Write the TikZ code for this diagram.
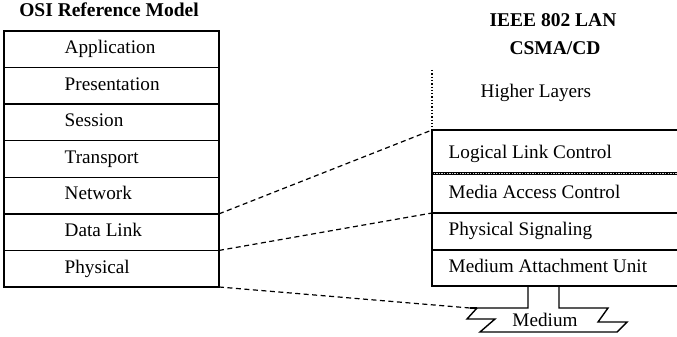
\documentclass[tikz,border=0pt]{standalone}
\usepackage{fontspec}
\setmainfont{Liberation Serif}
\begin{document}
\begin{tikzpicture}[x=1pt,y=-1pt,line width=1.4pt,
  lbl/.style={anchor=base west,inner sep=0pt,font=\fontsize{19.2}{21}\selectfont},
  ttl/.style={anchor=base,inner sep=0pt,font=\fontsize{19.5}{21}\selectfont\bfseries},
  layer/.style={draw,minimum width=215pt,minimum height=36.57pt,anchor=north west,inner sep=0pt,outer sep=0pt},
  conn/.style={dash pattern=on 5pt off 3.5pt,line width=1.2pt}]
\useasboundingbox (0,0) rectangle (677,337);
% titles
\node[ttl] (osi) at (109,17) {OSI Reference Model};
\node[ttl] (ieee) at (553,27) {IEEE 802 LAN};
\node[ttl] (csma) at (555,55) {CSMA/CD};
% left stack
\node[layer] (app)  at (4,31) {};
\node[layer] (pres) at (4,67.57) {};
\node[layer] (sess) at (4,104.14) {};
\node[layer] (trans) at (4,140.71) {};
\node[layer] (net)  at (4,177.28) {};
\node[layer] (dl)   at (4,213.85) {};
\node[layer] (phy)  at (4,250.42) {};
\node[lbl] (tapp) at (64,53.5) {Application};
\node[lbl] (tpres) at (64,90) {Presentation};
\node[lbl] (tsess) at (64,126.7) {Session};
\node[lbl] (ttrans) at (64,163.3) {Transport};
\node[lbl] (tnet) at (64,199.8) {Network};
\node[lbl] (tdl) at (64,236.4) {Data Link};
\node[lbl] (tphy) at (64,273) {Physical};
% right stack
\coordinate (llcTL) at (432,130);
\coordinate (macTL) at (432,173.5);
\coordinate (psTL) at (432,213);
\coordinate (mauTL) at (432,250);
\coordinate (mauBL) at (432,286);
\coordinate (dotTop) at (432,70);
\draw[dotted,line width=1.3pt] (dotTop) -- (llcTL);
\draw (677,130) -- (llcTL) -- (mauBL) -- (677,286);
\draw (psTL) -- (677,213);
\draw (mauTL) -- (677,250);
\draw[line width=3.6pt] (macTL) -- (677,173.5);
\draw[gray!35,line width=1.4pt,dash pattern=on 1.4pt off 1.2pt] (433.5,173.5) -- (677,173.5);
\node[lbl] (hl) at (480,97) {Higher Layers};
\node[lbl] (llc) at (448,158) {Logical Link Control};
\node[lbl] (mac) at (448,198) {Media Access Control};
\node[lbl] (ps) at (448,235) {Physical Signaling};
\node[lbl] (mau) at (448,272) {Medium Attachment Unit};
% medium
\coordinate (medTL) at (470,308);
\draw (528,286) -- (528,308) -- (477,308) -- (467,319) -- (495,319) -- (480,332)
      -- (617,332) -- (627,322) -- (598,322) -- (608,308) -- (559,308) -- (559,286);
\draw (477,308) -- (medTL);
\node[anchor=base,inner sep=0pt,font=\fontsize{19.2}{21}\selectfont] (medium) at (545,326.7) {Medium};
% connectors
\draw[conn] (net.south east) -- (llcTL);
\draw[conn] (dl.south east) -- (psTL);
\draw[conn] (phy.south east) -- (medTL);
\end{tikzpicture}
\end{document}
